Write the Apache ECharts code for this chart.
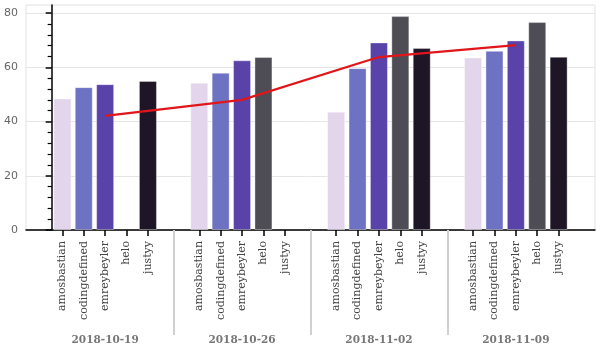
<!DOCTYPE html>
<html>
<head>
<meta charset="utf-8">
<script src="https://cdn.jsdelivr.net/npm/echarts@6/dist/echarts.min.js"></script>
<style>
  html, body { margin: 0; padding: 0; background: #fff; }
  #chart { width: 600px; height: 350px; }
</style>
</head>
<body>
<div id="chart"></div>
<script>
// weeks and authors (nested categories)
const dates = ['2018-10-19', '2018-10-26', '2018-11-02', '2018-11-09'];
const names = ['amosbastian', 'codingdefined', 'emreybeyler', 'helo', 'justyy'];
const colors = ['#e3d5ec', '#6d72c3', '#5a43a8', '#4e4d55', '#1e1527'];

// values per author, one per week (null = no bar)
const amosbastian = [48.5, 54.3, 43.6, 63.6];
const codingdefined = [52.7, 58.0, 59.7, 66.1];
const emreybeyler = [53.8, 62.6, 69.2, 69.9];
const helo = [null, 63.8, 78.9, 76.7];
const justyy = [55.0, null, 67.1, 63.9];
const averages = [42.1, 48.0, 63.8, 68.2];

const yTicks = [0, 20, 40, 60, 80];
const yMinorTicks = [4, 8, 12, 16, 24, 28, 32, 36, 44, 48, 52, 56, 64, 68, 72, 76];

const allValues = [amosbastian, codingdefined, emreybeyler, helo, justyy];
const groupPad = 1.4;
// factor position on the x scale (bokeh-like nested factor range)
function pos(g, i) { return g * names.length + i + 0.5 + g * groupPad; }

const factorPos = [], factorName = {};
dates.forEach(function (d, g) {
    names.forEach(function (n, i) {
        const p = pos(g, i);
        factorPos.push(p);
        factorName[p.toFixed(2)] = n;
    });
});
const groupCenters = dates.map(function (d, g) { return pos(g, 2); });
const groupBounds = [1, 2, 3].map(function (g) { return (pos(g - 1, 4) + pos(g, 0)) / 2; });
const dateName = {};
groupCenters.forEach(function (c, g) { dateName[c.toFixed(2)] = dates[g]; });

const xMin = -1.2, xMax = pos(3, 4) + 0.5 + 1.2;

const series = names.map(function (n, i) {
    return {
        name: n,
        type: 'bar',
        barWidth: 18,
        barGap: '-100%',
        itemStyle: { color: colors[i], borderColor: 'rgba(255,255,255,0.35)', borderWidth: 1 },
        data: allValues[i].map(function (v, g) { return v == null ? null : [pos(g, i), v]; })
                .filter(function (d) { return d; })
    };
});
series.push({
    name: 'mean',
    type: 'line',
    symbol: 'none',
    lineStyle: { color: '#e0161b', width: 2.2 },
    itemStyle: { color: '#e0161b' },
    data: averages.map(function (v, g) { return [groupCenters[g], v]; }),
    z: 5
});

const chart = echarts.init(document.getElementById('chart'));
chart.setOption({
    animation: false,
    grid: { left: 26, right: 5, top: 5, bottom: 120, show: true, borderColor: '#e2e2e2', borderWidth: 1 },
    xAxis: [{
        type: 'value', min: xMin, max: xMax, position: 'bottom',
        axisLine: { show: true, lineStyle: { color: '#000', width: 1.5 } },
        axisTick: { show: true, customValues: factorPos, length: 6, lineStyle: { color: '#000', width: 1.5 } },
        axisLabel: {
            customValues: factorPos, rotate: 90, margin: 11,
            fontFamily: 'DejaVu Serif', fontSize: 11, color: '#444',
            formatter: function (v) { return factorName[v.toFixed(2)] || ''; }
        },
        splitLine: { show: false }
    }, {
        type: 'value', min: xMin, max: xMax, position: 'bottom', offset: 3,
        axisLine: { show: false },
        axisTick: { show: true, customValues: groupBounds, length: 105, lineStyle: { color: '#d0d0d0', width: 2 } },
        axisLabel: {
            customValues: groupCenters, margin: 102,
            fontFamily: 'DejaVu Serif', fontSize: 10.5, fontWeight: 'bold', color: '#777',
            formatter: function (v) { return dateName[v.toFixed(2)] || ''; }
        },
        splitLine: { show: false }
    }],
    yAxis: [{
        type: 'value', min: 0, max: 83, interval: 20,
        axisLine: { show: true, lineStyle: { color: '#000', width: 1.5 } },
        axisTick: { show: true, customValues: yTicks, length: 6, lineStyle: { color: '#000', width: 1.5 } },
        axisLabel: { customValues: yTicks, fontFamily: 'DejaVu Sans', fontSize: 11, color: '#666', margin: 8 },
        splitLine: { show: true, lineStyle: { color: '#e5e5e5' } }
    }, {
        type: 'value', min: 0, max: 83, position: 'left',
        axisLine: { show: false },
        axisTick: { show: true, customValues: yMinorTicks, length: 4, lineStyle: { color: '#000', width: 1.2 } },
        axisLabel: { show: false },
        splitLine: { show: false }
    }],
    series: series
});
</script>
</body>
</html>
